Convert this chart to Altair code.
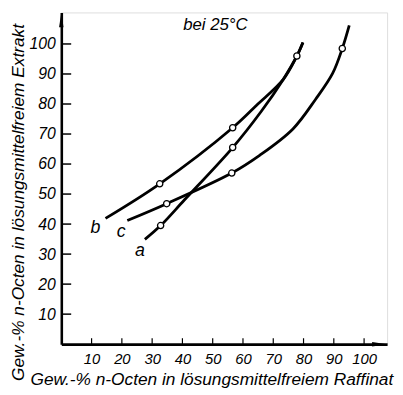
import altair as alt
import pandas as pd

# ---- data ----
a_x = [27.6, 32.8, 40.7, 56.6, 66.0, 73.3, 77.8, 79.8]
a_y = [34.9, 39.5, 48.1, 65.5, 77.5, 88.2, 96.0, 100.5]
b_x = [14.6, 32.5, 56.6, 64.5, 73.3, 77.8, 79.8]
b_y = [41.9, 53.4, 72.1, 79.6, 88.2, 96.0, 100.5]
c_x = [21.8, 34.8, 56.3, 65.5, 76.5, 84.0, 89.6, 92.8, 95.1]
c_y = [41.2, 46.8, 57.0, 62.9, 71.7, 81.6, 90.2, 98.5, 106.2]

marker_x = [32.8, 56.6, 32.5, 56.6, 77.8, 34.8, 56.3, 92.8]
marker_y = [39.5, 65.5, 53.4, 72.1, 96.0, 46.8, 57.0, 98.5]

tick_values = [10, 20, 30, 40, 50, 60, 70, 80, 90, 100]

curve_names = ["a", "b", "c"]
label_x = [26.0, 11.3, 19.8]
label_y = [31.0, 38.6, 37.3]

note_text = ["bei 25°C"]
note_x = [50.9]
note_y = [106.2]

x_title = "Gew.-% n-Octen in lösungsmittelfreiem Raffinat"
y_title = "Gew.-% n-Octen in lösungsmittelfreiem Extrakt"

# ---- tables ----
rows = []
for name, xs_, ys_ in (("a", a_x, a_y), ("b", b_x, b_y), ("c", c_x, c_y)):
    for i, (xv, yv) in enumerate(zip(xs_, ys_)):
        rows.append({"curve": name, "x": xv, "y": yv, "i": i})
lines_df = pd.DataFrame(rows)
markers_df = pd.DataFrame({"x": marker_x, "y": marker_y})
ticks_df = pd.DataFrame({"v": tick_values})
labels_df = pd.DataFrame({"t": curve_names, "x": label_x, "y": label_y})
note_df = pd.DataFrame({"t": note_text, "x": note_x, "y": note_y})
xarrow_df = pd.DataFrame({"x": [105.1], "y": [0]})
yarrow_df = pd.DataFrame({"x": [0], "y": [108.0]})

W = 330
H = 336
FONT = "Liberation Sans"

xs = alt.Scale(domain=[0, 107.6], nice=False, zero=False)
ys = alt.Scale(domain=[0, 110.5], nice=False, zero=False)

xaxis = alt.Axis(
    values=tick_values, ticks=False, tickSize=0, grid=False,
    domainColor="black", domainWidth=2.6,
    labelFont=FONT, labelFontStyle="italic", labelFontSize=15, labelColor="black",
    labelPadding=8, labelFlush=False, labelOverlap=False,
    title=x_title, titleFont=FONT, titleFontStyle="italic", titleFontWeight="normal",
    titleFontSize=17.5, titleColor="black",
    titleX=152, titleY=36, titleAlign="center", titleBaseline="middle",
)
yaxis = alt.Axis(
    values=tick_values, ticks=False, tickSize=0, grid=False,
    domainColor="black", domainWidth=2.6,
    labelFont=FONT, labelFontStyle="italic", labelFontSize=16, labelColor="black",
    labelPadding=6, labelFlush=False, labelOverlap=False,
    title=y_title, titleFont=FONT, titleFontStyle="italic", titleFontWeight="normal",
    titleFontSize=17.5, titleColor="black",
    titleX=-43.5, titleY=192, titleAngle=-90, titleAlign="center", titleBaseline="middle",
)

X = alt.X("x:Q", scale=xs, axis=xaxis)
Y = alt.Y("y:Q", scale=ys, axis=yaxis)

lines = alt.Chart(lines_df).mark_line(
    interpolate="catmull-rom", color="black", strokeWidth=2.8
).encode(x=X, y=Y, detail="curve:N", order="i:Q")

markers = alt.Chart(markers_df).mark_point(
    shape="circle", filled=True, fill="white", stroke="black", strokeWidth=1.3,
    size=40, opacity=1,
).encode(x=X, y=Y)

yticks = alt.Chart(ticks_df).mark_rule(color="black", strokeWidth=1.5).encode(
    y=alt.Y("v:Q", scale=ys, axis=yaxis), x=alt.value(0), x2=alt.value(10)
)
xticks = alt.Chart(ticks_df).mark_rule(color="black", strokeWidth=1.2).encode(
    x=alt.X("v:Q", scale=xs, axis=xaxis), y=alt.value(H), y2=alt.value(H - 6)
)

xarrow = alt.Chart(xarrow_df).mark_point(
    shape="M-1,-0.3L1,0L-1,0.3Z", filled=True, color="black", size=225, opacity=1
).encode(x=X, y=Y)
yarrow = alt.Chart(yarrow_df).mark_point(
    shape="M-0.3,1L0,-1L0.3,1Z", filled=True, color="black", size=225, opacity=1
).encode(x=X, y=Y)

curve_labels = alt.Chart(labels_df).mark_text(
    font=FONT, fontStyle="italic", fontSize=18, color="black"
).encode(x=X, y=Y, text="t:N")

note = alt.Chart(note_df).mark_text(
    font=FONT, fontStyle="italic", fontSize=17, color="black"
).encode(x=X, y=Y, text="t:N")

chart = alt.layer(
    lines, yticks, xticks, xarrow, yarrow, markers, curve_labels, note
).properties(
    width=W, height=H,
    autosize=alt.AutoSizeParams(type="none"),
    padding={"left": 54, "top": 2, "right": 8, "bottom": 49},
).configure_view(stroke=None).configure_axis(
    labelOverlap=False
).configure(background="white")

chart.save("out.html", embed_options={"renderer": "svg", "actions": False})
